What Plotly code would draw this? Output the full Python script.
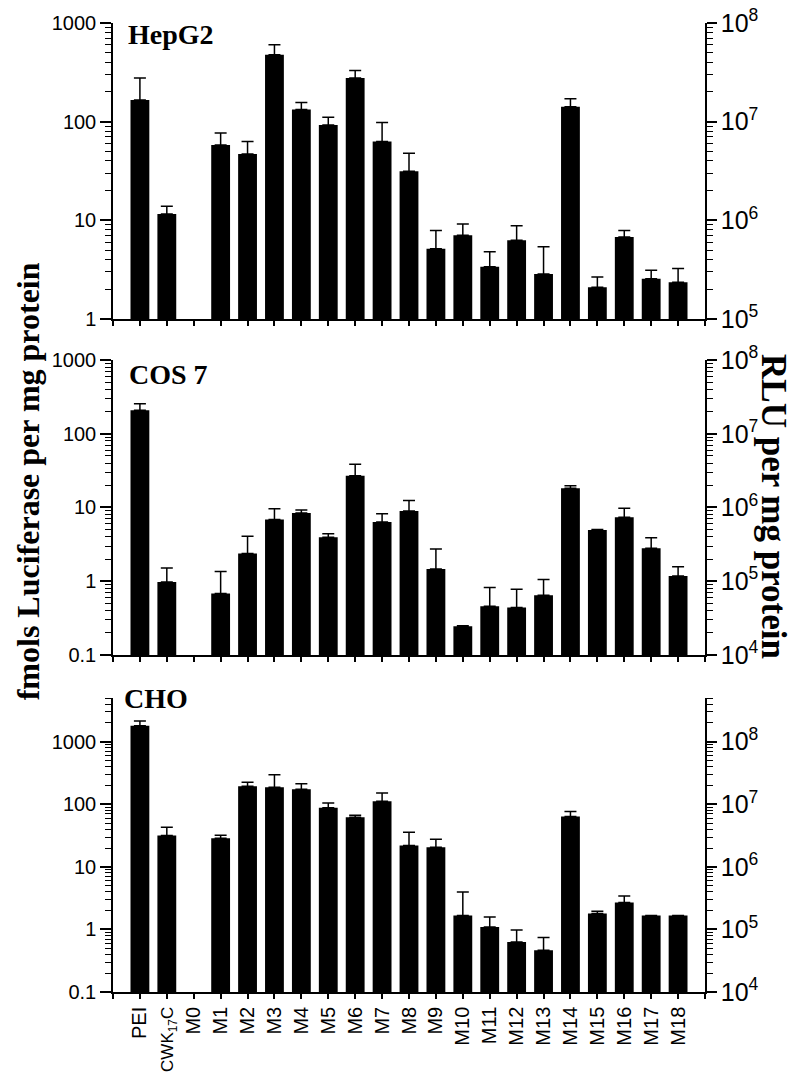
import math
import plotly.graph_objects as go

categories = ["PEI", "CWK17C", "M0"] + [f"M{i}" for i in range(1, 19)]
tick_labels = ["PEI", "<span style='font-size:17px'>CWK<sub>17</sub>C</span>", "M0"] + [f"M{i}" for i in range(1, 19)]

panel_names = ["HepG2", "COS 7", "CHO"]

hepg2_val = [166, 11.6, None, 58, 47, 477, 133, 92.5, 277, 63, 31.4, 5.16, 7.05, 3.39, 6.3, 2.86, 142, 2.1, 6.8, 2.56, 2.36]
hepg2_top = [277, 13.9, None, 77, 63, 603, 156, 111, 331, 98, 48, 7.9, 9.2, 4.8, 8.8, 5.4, 171, 2.67, 7.9, 3.12, 3.26]

cos7_val = [208, 0.98, None, 0.68, 2.37, 6.9, 8.4, 3.95, 27, 6.36, 8.97, 1.47, 0.245, 0.457, 0.44, 0.645, 18.2, 4.95, 7.36, 2.8, 1.18]
cos7_top = [256, 1.51, None, 1.36, 4.06, 9.6, 9.25, 4.42, 38.5, 8.2, 12.4, 2.74, 0.25, 0.82, 0.78, 1.06, 19.8, 5.05, 9.75, 3.9, 1.57]

cho_val = [1800, 31.8, None, 28.8, 194, 187, 174, 87.7, 62, 112, 22, 20.5, 1.67, 1.09, 0.627, 0.467, 63.8, 1.8, 2.69, 1.67, 1.67]
cho_top = [2140, 43, None, 32, 225, 298, 214, 105, 67, 152, 35.9, 27.7, 3.97, 1.58, 0.98, 0.74, 76.7, 1.95, 3.43, 1.67, 1.67]

left_ranges = [(1, 1000), (0.1, 1000), (0.1, 5000)]
rlu_factor = 1e5  # RLU per fmol

values = [hepg2_val, cos7_val, cho_val]
tops = [hepg2_top, cos7_top, cho_top]

SANS = "Liberation Sans, Arial, sans-serif"
SERIF = "Liberation Serif, Times New Roman, serif"

xpos = list(range(len(categories)))
domains = [(0.6945, 1.0), (0.3478, 0.6522), (0.0, 0.3034)]

fig = go.Figure()
layout = {}
for p in range(3):
    xa = "x" if p == 0 else f"x{p+1}"
    yl = f"y{2*p+1}" if p > 0 else "y"
    yr = f"y{2*p+2}"
    vals = values[p]
    ups = [(t - v) if (v is not None and t is not None) else 0 for v, t in zip(vals, tops[p])]
    fig.add_trace(go.Bar(
        x=xpos, y=vals, xaxis=xa, yaxis=yl, width=0.7,
        marker=dict(color="black", line=dict(width=0)),
        error_y=dict(type="data", symmetric=False, array=ups,
                     arrayminus=[0] * len(ups), color="black",
                     thickness=1.5, width=6),
        showlegend=False, hoverinfo="skip"))
    # invisible trace on right (RLU) axis
    fig.add_trace(go.Scatter(
        x=xpos, y=[v * rlu_factor if v is not None else None for v in vals],
        xaxis=xa, yaxis=yr, mode="markers", marker=dict(opacity=0),
        showlegend=False, hoverinfo="skip"))

    lo, hi = left_ranges[p]
    xkey = "xaxis" if p == 0 else f"xaxis{p+1}"
    ylkey = "yaxis" if p == 0 else f"yaxis{2*p+1}"
    yrkey = f"yaxis{2*p+2}"
    layout[xkey] = dict(
        domain=[0, 1], anchor=yl, range=[-1, len(categories)], automargin=False,
        tickmode="array", tickvals=[-1] + xpos + [len(categories)],
        ticktext=([""] + tick_labels + [""]) if p == 2 else [""] * (len(categories) + 2),
        tickangle=-90, ticks="outside", ticklen=5, tickwidth=1.5, tickcolor="black",
        ticklabeloverflow="allow",
        showline=True, linecolor="black", linewidth=1.5, showgrid=False, zeroline=False,
        tickfont=dict(family=SANS, size=20, color="black"))
    layout[ylkey] = dict(
        domain=list(domains[p]), anchor=xa, type="log", automargin=False,
        range=[math.log10(lo), math.log10(hi)], dtick=1,
        ticks="outside", ticklen=11, tickwidth=1.5, tickcolor="black",
        ticklabeloverflow="allow",
        minor=dict(ticks="outside", ticklen=6, dtick="D1", tickwidth=1.2, tickcolor="black", showgrid=False),
        showline=True, linecolor="black", linewidth=1.5, showgrid=False, zeroline=False,
        exponentformat="none", tickfont=dict(family=SANS, size=20, color="black"))
    layout[yrkey] = dict(
        overlaying=yl, anchor=xa, side="right", type="log", automargin=False,
        range=[math.log10(lo * rlu_factor), math.log10(hi * rlu_factor)], dtick=1,
        ticks="outside", ticklen=10, tickwidth=1.5, tickcolor="black",
        ticklabeloverflow="allow",
        minor=dict(ticks="outside", ticklen=6, dtick="D1", tickwidth=1.2, tickcolor="black", showgrid=False),
        showline=True, linecolor="black", linewidth=1.5, showgrid=False, zeroline=False,
        exponentformat="power", tickfont=dict(family=SANS, size=20, color="black"))

title_pos = [(0.022, 1.006), (0.024, 0.655), (0.016, 0.321)]
annotations = []
for name, (ax, ay) in zip(panel_names, title_pos):
    annotations.append(dict(text=f"<b>{name}</b>", x=ax, y=ay, xref="paper", yref="paper",
                            xanchor="left", yanchor="top", showarrow=False,
                            font=dict(family=SERIF, size=28, color="black")))
annotations.append(dict(text="<b>fmols Luciferase per mg protein</b>", x=-0.1436, y=0.527,
                        xref="paper", yref="paper", textangle=-90, showarrow=False,
                        xanchor="center", yanchor="middle",
                        font=dict(family=SERIF, size=32, color="black")))
annotations.append(dict(text="<b>RLU per mg protein</b>", x=1.1166, y=0.5015,
                        xref="paper", yref="paper", textangle=90, showarrow=False,
                        xanchor="center", yanchor="middle",
                        font=dict(family=SERIF, size=35, color="black")))

fig.update_layout(
    width=800, height=1088,
    margin=dict(l=113, r=95, t=23, b=96, autoexpand=False),
    paper_bgcolor="white", plot_bgcolor="white",
    bargap=0.3, annotations=annotations,
    **layout)

# remove the default 8px page margin so the figure fills the window exactly
fig.write_html("out.html", config={"displayModeBar": False},
               post_script="document.body.style.margin='0';")
